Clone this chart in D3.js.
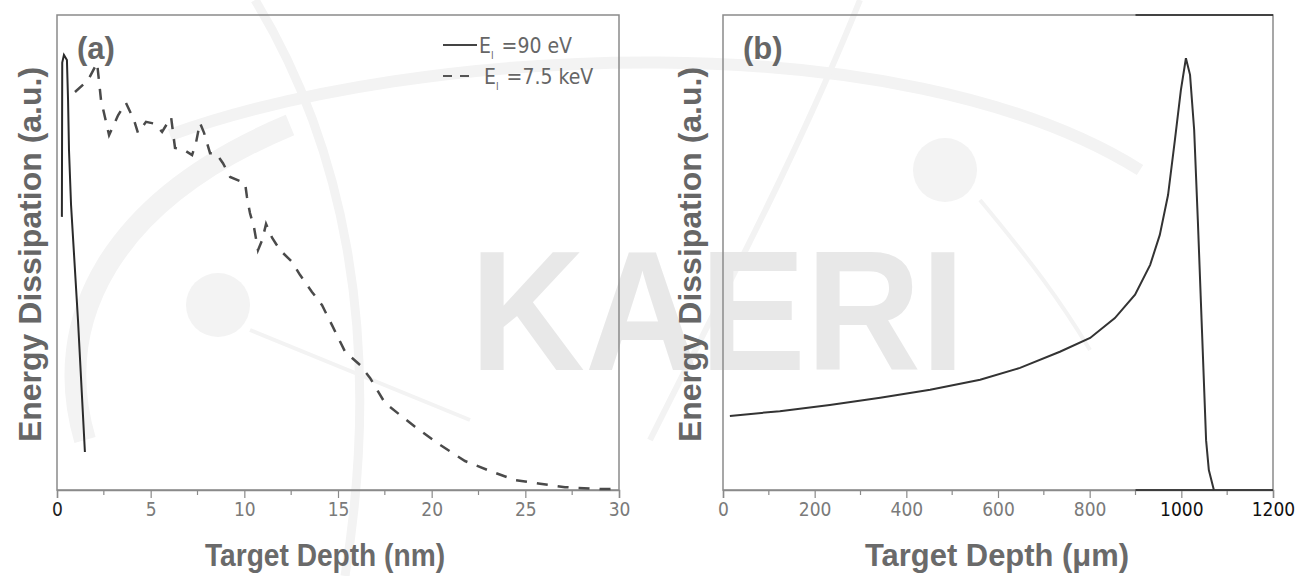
<!DOCTYPE html>
<html>
<head>
<meta charset="utf-8">
<script src="https://cdnjs.cloudflare.com/ajax/libs/d3/7.8.5/d3.min.js"></script>
<style>
  body { margin: 0; background: #fff; }
  .tick text { font-family: "Liberation Sans Narrow", "DejaVu Sans Condensed", sans-serif; }
</style>
</head>
<body>
<div id="chart"></div>
<script>
// (a) energy dissipation vs depth in nm, values normalised to the frame height
var depth90 = [0.26, 0.28, 0.37, 0.53, 0.59, 0.64, 0.75, 1.12, 1.49];
var energy90 = [0.575, 0.90, 0.916, 0.905, 0.821, 0.716, 0.600, 0.358, 0.080];

var depth7k = [0.96, 1.66, 2.14, 2.35, 2.78, 3.26, 3.68, 4.11, 4.32, 4.75, 5.23, 5.61, 6.09, 6.30,
  6.78, 7.21, 7.42, 7.63, 7.85, 8.17, 8.49, 8.86, 9.24, 10.04, 10.14, 10.30, 10.52, 10.73, 10.95,
  11.16, 11.48, 11.91, 12.55, 12.97, 13.61, 14.15, 14.68, 15.38, 16.18, 16.71, 17.51, 18.31,
  19.11, 20.45, 21.78, 23.12, 24.45, 25.79, 27.12, 28.99, 29.79];
var energy7k = [0.838, 0.863, 0.899, 0.821, 0.747, 0.789, 0.815, 0.779, 0.752, 0.775, 0.771, 0.754,
  0.785, 0.720, 0.716, 0.705, 0.731, 0.773, 0.752, 0.709, 0.709, 0.688, 0.659, 0.646, 0.617, 0.583,
  0.552, 0.505, 0.526, 0.560, 0.531, 0.505, 0.480, 0.453, 0.417, 0.389, 0.347, 0.291, 0.263, 0.236,
  0.183, 0.158, 0.133, 0.095, 0.061, 0.040, 0.021, 0.013, 0.006, 0.002, 0.002];

// (b) energy dissipation vs depth in micrometres
var depthB = [15, 124, 233, 343, 452, 561, 648, 735, 801, 855, 899, 932, 953, 971, 986, 999,
  1010, 1019, 1028, 1036, 1045, 1054, 1060, 1071];
var energyB = [0.156, 0.166, 0.179, 0.194, 0.211, 0.232, 0.257, 0.291, 0.320, 0.362, 0.411, 0.474,
  0.537, 0.621, 0.737, 0.842, 0.909, 0.874, 0.758, 0.568, 0.337, 0.105, 0.042, 0.0];

var ticksA = [0, 5, 10, 15, 20, 25, 30];
var minorA = [2.5, 7.5, 12.5, 17.5, 22.5, 27.5];
var ticksB = [0, 200, 400, 600, 800, 1000, 1200];
var minorB = [100, 300, 500, 700, 900, 1100];
var legendLabels = ["=90 eV", "=7.5 keV"];

var W = 1300, H = 576;
var plotTop = 15, plotBottom = 490;
var panelA = {left: 57, right: 619, titleX: 325, titleW: 240, yTitleX: 41},
    panelB = {left: 723, right: 1273, titleX: 997, titleW: 264, yTitleX: 701};

var svg = d3.select("#chart")
  .append("svg")
    .attr("width", W)
    .attr("height", H);

// faint KAERI watermark behind everything
var wm = svg.append("g").attr("fill", "none").attr("stroke", "#f3f3f3");
wm.append("path").attr("d", "M85,440 C50,320 110,200 290,125").attr("stroke-width", 22);
wm.append("path").attr("d", "M170,135 C420,45 900,20 1140,170").attr("stroke-width", 12);
wm.append("path").attr("d", "M255,0 C340,140 385,330 345,576").attr("stroke-width", 9);
wm.append("path").attr("d", "M860,0 C800,150 720,300 650,440").attr("stroke-width", 6);
wm.append("path").attr("d", "M250,330 L470,420").attr("stroke-width", 4);
wm.append("path").attr("d", "M980,200 C1030,260 1060,300 1090,350").attr("stroke-width", 4);
svg.append("circle").attr("cx", 218).attr("cy", 305).attr("r", 32).attr("fill", "#f3f3f3");
svg.append("circle").attr("cx", 945).attr("cy", 170).attr("r", 32).attr("fill", "#f3f3f3");
svg.append("text")
  .attr("x", 470).attr("y", 370)
  .attr("textLength", 495).attr("lengthAdjust", "spacingAndGlyphs")
  .style("font-family", "Liberation Sans, Arial, sans-serif")
  .style("font-weight", "bold").style("font-size", "170px")
  .attr("fill", "#e8e8e8")
  .text("KAERI");

var y = d3.scaleLinear().domain([0, 1]).range([plotBottom, plotTop]);

function drawPanel(p, xDomain, ticks, minor, label, title, labelColor) {
  var x = d3.scaleLinear().domain(xDomain).range([p.left, p.right]);
  var g = svg.append("g");

  // frame
  g.append("rect")
    .attr("x", p.left).attr("y", plotTop)
    .attr("width", p.right - p.left).attr("height", plotBottom - plotTop)
    .attr("fill", "none").attr("stroke", "#8a8a8a").attr("stroke-width", 1.5);

  var ax = g.append("g")
    .attr("transform", "translate(0," + plotBottom + ")")
    .call(d3.axisBottom(x).tickValues(ticks).tickSize(8).tickPadding(5).tickFormat(d3.format("d")));
  ax.select(".domain").attr("stroke", "#8a8a8a").attr("stroke-width", 1.5);
  ax.selectAll(".tick line").attr("stroke", "#8a8a8a").attr("stroke-width", 1.2);
  ax.selectAll(".tick text")
    .style("font-size", "19px")
    .attr("fill", function (d) { return labelColor(d); });

  g.append("g").selectAll("line")
    .data(minor).enter().append("line")
    .attr("x1", function (d) { return x(d); }).attr("x2", function (d) { return x(d); })
    .attr("y1", plotBottom).attr("y2", plotBottom + 5)
    .attr("stroke", "#8a8a8a").attr("stroke-width", 1.2);

  g.append("text")
    .attr("x", p.left + 20).attr("y", plotTop + 44)
    .style("font-family", "Liberation Sans, Arial, sans-serif")
    .style("font-weight", "bold").style("font-size", "31px")
    .attr("fill", "#666")
    .text(label);

  g.append("text")
    .attr("x", p.titleX - p.titleW / 2).attr("y", 566)
    .attr("textLength", p.titleW).attr("lengthAdjust", "spacingAndGlyphs")
    .style("font-family", "Liberation Sans, Arial, sans-serif")
    .style("font-weight", "bold").style("font-size", "31px")
    .attr("fill", "#6a6a6a")
    .text(title);

  g.append("text")
    .attr("transform", "translate(" + p.yTitleX + "," + ((plotTop + plotBottom) / 2 + 2) + ") rotate(-90)")
    .attr("text-anchor", "middle")
    .style("font-family", "Liberation Sans, Arial, sans-serif")
    .style("font-weight", "bold").style("font-size", "32px")
    .attr("fill", "#666")
    .text("Energy Dissipation (a.u.)");

  return x;
}

var xA = drawPanel(panelA, [0, 30], ticksA, minorA, "(a)", "Target Depth (nm)",
  function (d) { return d === 0 ? "#222" : "#7a7a7a"; });
var xB = drawPanel(panelB, [0, 1200], ticksB, minorB, "(b)", "Target Depth (\u03bcm)",
  function (d) { return d >= 1000 ? "#111" : "#7a7a7a"; });

// dark overlay on the right part of panel (b) frame, as in the scan
svg.append("line").attr("x1", xB(900)).attr("x2", xB(1200)).attr("y1", plotBottom).attr("y2", plotBottom)
  .attr("stroke", "#222").attr("stroke-width", 1.5);
svg.append("line").attr("x1", xB(900)).attr("x2", xB(1200)).attr("y1", plotTop).attr("y2", plotTop)
  .attr("stroke", "#222").attr("stroke-width", 1.5);

var line = d3.line()
  .x(function (d) { return d[0]; })
  .y(function (d) { return y(d[1]); });

svg.append("path")
  .datum(depth90.map(function (d, i) { return [xA(d), energy90[i]]; }))
  .attr("fill", "none").attr("stroke", "#2a2a2a").attr("stroke-width", 2)
  .attr("d", line);

svg.append("path")
  .datum(depth7k.map(function (d, i) { return [xA(d), energy7k[i]]; }))
  .attr("fill", "none").attr("stroke", "#4a4a4a").attr("stroke-width", 2.5)
  .attr("stroke-dasharray", "11,10")
  .attr("d", line);

svg.append("path")
  .datum(depthB.map(function (d, i) { return [xB(d), energyB[i]]; }))
  .attr("fill", "none").attr("stroke", "#333").attr("stroke-width", 2)
  .attr("d", line);

// legend
var legend = svg.append("g").attr("transform", "translate(443,45)");
["none", "9,8"].forEach(function (dash, i) {
  var row = legend.append("g").attr("transform", "translate(0," + (i * 31) + ")");
  row.append("line")
    .attr("x1", 0).attr("x2", 34).attr("y1", 0).attr("y2", 0)
    .attr("stroke", i === 0 ? "#444" : "#555").attr("stroke-width", 2.2)
    .attr("stroke-dasharray", dash);
  var t = row.append("text")
    .attr("x", i === 0 ? 36 : 41).attr("y", 8)
    .style("font-family", "\"Liberation Sans Narrow\", \"DejaVu Sans Condensed\", sans-serif")
    .style("font-size", "21px")
    .attr("fill", "#666");
  t.append("tspan").text("E");
  t.append("tspan").attr("dy", 6).style("font-size", "10px").text("I");
  t.append("tspan").attr("dy", -6).attr("dx", 2).text(" " + legendLabels[i]);
});
</script>
</body>
</html>
